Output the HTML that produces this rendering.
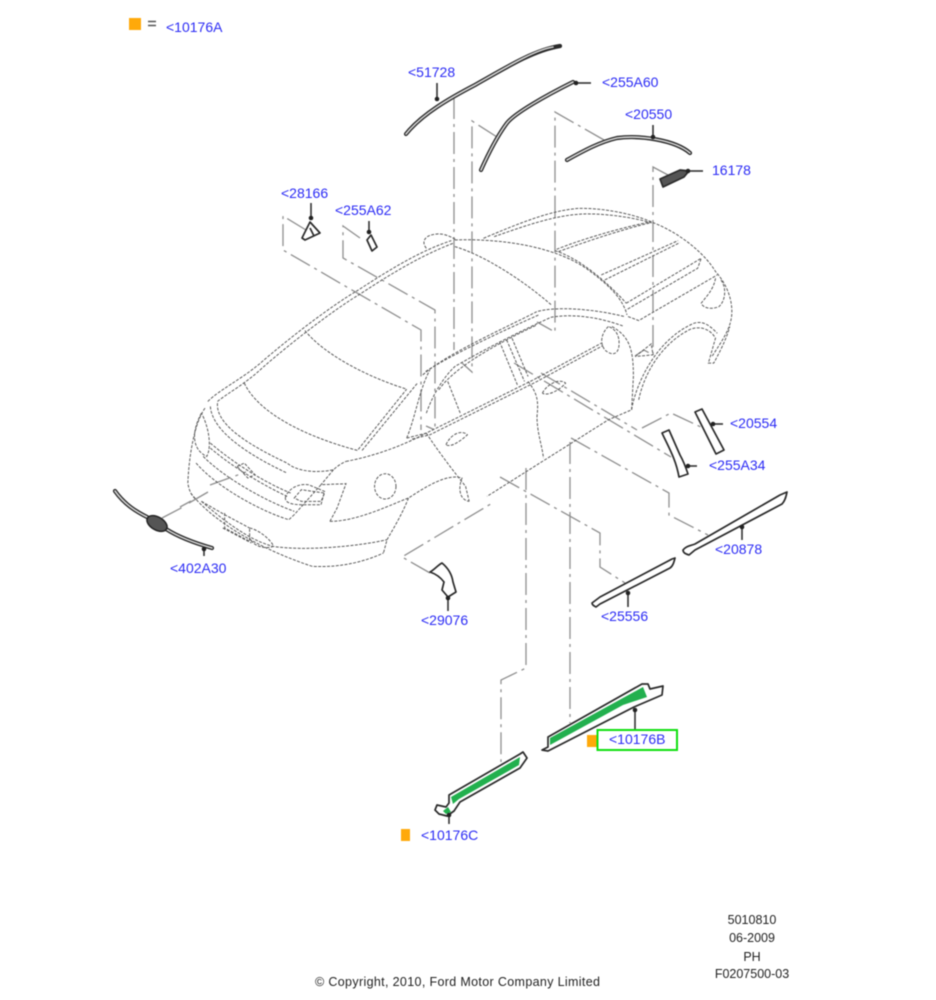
<!DOCTYPE html>
<html><head><meta charset="utf-8"><title>Ford parts diagram</title>
<style>
html,body{margin:0;padding:0;background:#fff;width:936px;height:1000px;overflow:hidden}
svg{display:block;filter:blur(.5px)}
text{font-family:"Liberation Sans",sans-serif;font-size:14px;fill:#2b2bf5}
text.k{fill:#222;font-size:12.5px}
.c path,.c ellipse{fill:none;stroke:#5c5c5c;stroke-width:1;stroke-dasharray:3 1.4;vector-effect:non-scaling-stroke}
.l path{fill:none;stroke:#8f8f8f;stroke-width:1.3;stroke-dasharray:22 5 3 5}
.t path{fill:none;stroke:#333;stroke-width:1.6}
.t circle{fill:#222}
.p path{fill:#fff;stroke:#2a2a2a;stroke-width:1.7;stroke-linejoin:round}
.r1{fill:none;stroke:#2a2a2a;stroke-width:4.2;stroke-linecap:round}
.r2{fill:none;stroke:#d4d4d4;stroke-width:1.6;stroke-linecap:round}
</style></head><body>
<svg width="936" height="1000" viewBox="0 0 936 1000" xmlns="http://www.w3.org/2000/svg">
<rect width="936" height="1000" fill="#fff"/>

<g class="l">
<path d="M454 97V350"/>
<path d="M497 137L472 121V372L462 363"/>
<path d="M604 140L555 112V332L537 322"/>
<path d="M668 175L653 167V355L644 350L635 356"/>
<path d="M306 230L283 216V250L421 330V430"/>
<path d="M360 238L343 226V258L435 310V430L426 426"/>
<path d="M162 518L183 507M189 503L208 492M191 501L180 507M210 485L246 472"/>
<path d="M430 573L402 557L494 502"/>
<path d="M526 468V668L501 680V762"/>
<path d="M570 442V723"/>
<path d="M500 477L600 533V567L625 583"/>
<path d="M571 438L669 493V515L708 535"/>
<path d="M514 363L671 457"/>
<path d="M541 373L637 430M642 428L671 413L703 428"/>
</g>

<g class="c" transform="translate(180 200) scale(.357 .333)">
<path d="M78 605C110 570 170 540 225 490C300 420 420 320 500 270C600 200 680 150 760 122"/>
<path d="M105 605C140 575 180 555 235 500C310 430 430 330 505 282C600 215 680 165 765 130"/>
<path d="M690 145C675 125 685 105 720 102C745 100 765 115 775 120"/>
<path d="M770 120C900 115 1060 140 1150 215C1200 255 1240 295 1252 345"/>
<path d="M770 140C850 165 960 240 1040 315"/>
<path d="M1050 152C1120 175 1200 250 1250 310"/>
<path d="M850 115C950 70 1040 30 1120 25C1210 25 1290 50 1330 70C1400 100 1470 160 1500 215C1530 250 1550 300 1545 350C1540 390 1520 420 1490 470"/>
<path d="M880 110C960 80 1050 45 1130 42C1200 40 1280 55 1325 70"/>
<path d="M1060 155C1150 120 1250 85 1320 68"/>
<path d="M1055 148C1140 112 1250 80 1320 65"/>
<path d="M1180 225L1395 122"/><path d="M1190 240L1400 128"/>
<path d="M1250 310L1460 175L1450 205L1250 330"/>
<path d="M1255 350L1285 362L1505 225"/>
<path d="M1500 235C1495 270 1470 295 1460 310C1465 325 1490 330 1510 320C1530 300 1530 260 1515 240"/>
<path d="M1265 630C1275 560 1330 420 1440 370C1470 360 1490 385 1505 400"/>
<path d="M1285 600C1300 520 1350 430 1430 388C1465 375 1490 395 1500 415L1480 490L1495 490C1510 460 1530 420 1540 380"/>
<path d="M1275 470L1320 432L1325 465L1275 470"/>
<path d="M680 525C750 460 900 390 1000 335C1050 320 1150 325 1245 350"/>
<path d="M688 515C760 465 900 395 1005 345"/>
<path d="M690 640C710 580 740 530 770 500C850 450 960 390 1040 352C1110 340 1180 355 1240 378"/>
<path d="M725 570C760 515 850 450 1000 375"/>
<path d="M635 715C660 650 670 570 700 510"/>
<path d="M635 715L690 700L990 540L1180 430"/>
<path d="M650 718L700 705L1000 545L1185 437"/>
<path d="M750 545L785 640"/>
<path d="M1200 380C1180 400 1175 430 1190 450C1210 470 1230 465 1230 430C1230 400 1215 385 1200 380"/>
<path d="M895 425L945 555"/><path d="M915 420L965 545"/><path d="M930 415L975 530"/>
<path d="M975 545C1000 580 1005 600 1000 650C1000 700 1015 740 1018 775"/>
<path d="M1210 380C1260 410 1270 450 1270 530L1265 630L1200 660L860 890"/>
<path d="M690 700C720 750 770 820 800 860L810 905"/>
<path d="M745 735C760 700 790 690 805 705C790 720 760 745 745 735"/>
<path d="M1015 580C1030 550 1065 535 1080 550C1065 570 1030 590 1015 580"/>
<path d="M420 965C500 965 600 910 640 895C690 860 750 820 790 835C780 860 780 900 810 905"/>
<path d="M640 895C620 950 590 1000 580 1020L570 1060"/>
<path d="M30 880C80 950 200 1040 370 1100C450 1105 520 1085 570 1060"/>
<path d="M60 905C120 960 190 1020 260 1040C350 1055 500 1040 580 1020"/>
<path d="M420 965L440 925L465 852L395 855L320 945"/>
<path d="M350 392C400 460 520 530 635 568"/>
<path d="M180 550C220 640 350 710 497 752L635 568"/>
<path d="M510 752L665 550"/>
<path d="M465 785C540 770 620 740 690 700"/>
<path d="M105 610C100 670 180 730 300 790C340 825 410 815 430 810C445 795 455 790 465 785"/>
<path d="M430 810L395 855"/>
<path d="M85 620C90 690 180 760 300 820"/>
<ellipse cx="575" cy="860" rx="30" ry="38"/>
<path d="M70 625C40 670 25 770 22 850C25 870 30 885 45 900"/>
<path d="M60 640C30 700 35 750 75 770C90 740 80 680 60 640"/>
<path d="M85 730C150 790 240 850 310 880"/>
<path d="M85 745C150 805 240 860 300 890"/>
<path d="M45 790C110 870 240 940 305 960L320 945"/>
<path d="M65 770C120 830 230 900 320 935"/>
<path d="M160 800L180 790L210 825L190 835Z"/>
<path d="M295 895C300 870 330 850 360 855L405 875L395 915L340 915C315 915 295 910 295 895"/>
<path d="M320 895L340 870L405 880L395 905L340 905Z"/>
<path d="M125 940V985L195 1025V985"/>
<path d="M120 985L200 1030"/>
<path d="M195 985C220 990 255 1020 262 1040C240 1050 205 1040 195 1015"/>
<path d="M60 905L125 945L195 985"/>
</g>

<path class="r1" d="M406 134C422 114 450 98 475 85C510 65 535 50 560 46"/>
<path class="r2" d="M406 134C422 114 450 98 475 85C510 65 535 50 553 47"/>
<path class="r1" d="M481 170C490 150 498 135 507 123C515 113 545 96 573 82"/>
<path class="r2" d="M481 170C490 150 498 135 507 123C515 113 545 96 573 82"/>
<path class="r1" d="M567 160C585 150 600 142 617 138C640 135 675 140 690 153"/>
<path class="r2" d="M567 160C585 150 600 142 617 138C640 135 675 140 690 153"/>

<g class="p">
<path d="M660 179L680 170L689 171L684 177L663 187Z" style="fill:#555"/>
<path d="M302 238L310 222L320 233L305 240Z"/>
<path d="M310 228L314 236"/>
<path d="M367 240L371 235L377 247L372 251Z"/>
<path d="M695 412L702 409L724 450L716 454Z"/>
<path d="M662 433L669 430L680 455C684 462 686 468 688 474L679 477C676 460 670 450 662 433Z"/>
<path d="M683 550C686 546 690 546 695 544L780 495L787 492C786 497 785 501 782 504L695 550L689 555C686 554 683 553 683 550Z"/>
<path d="M592 603L600 597L672 559L675 558C674 562 673 566 670 568L600 604L596 607C594 606 592 605 592 603Z"/>
<path d="M430 572C434 570 438 565 442 563C448 568 452 575 453 582L456 592L448 597L442 590L444 582C441 578 436 574 430 572Z"/>
<path d="M542 750L548 747L548 737L642 684L648 684L650 689L663 686L662 695L655 698L634 707L548 751Z"/>
<path d="M449 795L520 754L523 752L527 758L520 768L460 802L454 811L447 816L439 814L435 810L437 805L446 807L449 803Z"/>
</g>
<path d="M550 738L643 687L647 697L623 705L550 745Z" fill="#22b04e"/>
<path d="M451 797L520 757L519 765L459 799L453 804Z" fill="#22b04e"/>
<path d="M443 811L448 807L451 812L446 814Z" fill="#22b04e"/>

<path class="r1" d="M115 491C125 505 137 512 147 517" stroke-width="3"/>
<path class="r2" d="M115 491C125 505 137 512 147 517" stroke-width="1"/>
<path class="r1" d="M166 529C180 538 198 544 212 548" stroke-width="3"/>
<path class="r2" d="M166 529C180 538 198 544 212 548" stroke-width="1"/>
<ellipse cx="157" cy="523.500" rx="11" ry="6.500" fill="#555" stroke="#222" stroke-width="1.500" transform="rotate(30 157 523.500)"/>

<g class="t">
<path d="M437 83V99"/><circle cx="437" cy="99" r="2.300"/>
<path d="M576 83H591"/><circle cx="576" cy="83" r="2.300"/>
<path d="M653 125V137"/><circle cx="653" cy="137" r="2.300"/>
<path d="M688 171H703"/><circle cx="688" cy="171" r="2.300"/>
<path d="M311 203V218"/><circle cx="311" cy="218" r="2.300"/>
<path d="M369 221V232"/><circle cx="369" cy="232" r="2.300"/>
<path d="M713 424H723"/><circle cx="713" cy="424" r="2.300"/>
<path d="M688 466H697"/><circle cx="688" cy="466" r="2.300"/>
<path d="M742 527V540"/><circle cx="742" cy="527" r="2.300"/>
<path d="M628 593V607"/><circle cx="628" cy="593" r="2.300"/>
<path d="M448 598V611"/><circle cx="448" cy="598" r="2.300"/>
<path d="M204 549V556"/><circle cx="204" cy="549" r="2.300"/>
<path d="M635 710V729"/><circle cx="635" cy="710" r="2.300"/>
<path d="M449 815V824"/><circle cx="449" cy="815" r="2.300"/>
</g>

<rect x="129" y="18" width="12" height="12" fill="#ffa90a"/>
<rect x="587" y="735" width="10" height="12" fill="#ffa90a"/>
<rect x="401" y="829" width="9" height="12" fill="#ffa90a"/>
<rect x="597.500" y="730" width="79.500" height="20" fill="none" stroke="#0fe00f" stroke-width="2"/>
<path d="M148 21.500H156M148 25.500H156" stroke="#555" stroke-width="1.500"/>

<text x="166" y="32">&lt;10176A</text>
<text x="408" y="77">&lt;51728</text>
<text x="602" y="87">&lt;255A60</text>
<text x="625" y="119">&lt;20550</text>
<text x="712" y="175">16178</text>
<text x="281" y="198">&lt;28166</text>
<text x="335" y="215">&lt;255A62</text>
<text x="730" y="428">&lt;20554</text>
<text x="709" y="470">&lt;255A34</text>
<text x="715" y="554">&lt;20878</text>
<text x="170" y="573">&lt;402A30</text>
<text x="421" y="625">&lt;29076</text>
<text x="601" y="621">&lt;25556</text>
<text x="609" y="744">&lt;10176B</text>
<text x="421" y="840">&lt;10176C</text>

<text class="k" x="752" y="924" text-anchor="middle">5010810</text>
<text class="k" x="752" y="942" text-anchor="middle">06-2009</text>
<text class="k" x="752" y="961" text-anchor="middle">PH</text>
<text class="k" x="752" y="978" text-anchor="middle">F0207500-03</text>
<text class="k" x="315" y="986" textLength="285">© Copyright, 2010, Ford Motor Company Limited</text>
</svg>
</body></html>
